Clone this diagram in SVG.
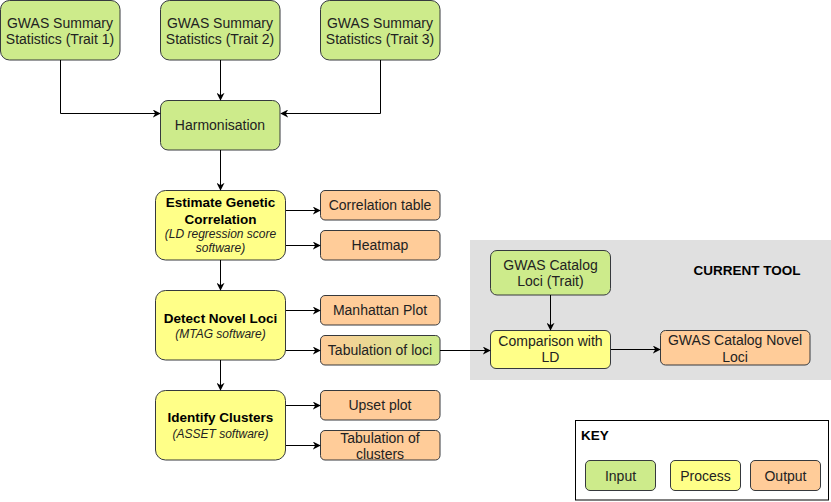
<svg xmlns="http://www.w3.org/2000/svg" width="831" height="502" viewBox="0 0 831 502">
<defs>
<marker id="ah" viewBox="0 0 10 10" refX="9" refY="5" markerWidth="8" markerHeight="8" markerUnits="userSpaceOnUse" orient="auto">
<path d="M0,0 L10,5 L0,10 L3,5 Z" fill="#000"/>
</marker>
<linearGradient id="og" x1="0" y1="0" x2="1" y2="0">
<stop offset="0" stop-color="#FFCC99"/>
<stop offset="1" stop-color="#CDEB8B"/>
</linearGradient>
</defs>
<style>
text{font-family:"Liberation Sans",Arial,sans-serif;font-size:14px;fill:#222;text-anchor:middle}
.b{font-weight:bold;fill:#000;font-size:13.5px}
.i{font-style:italic;font-size:12px}
.in{fill:#CDEB8B;stroke:#36393D;stroke-width:1}
.pr{fill:#FFFF88;stroke:#36393D;stroke-width:1}
.out{fill:#FFCC99;stroke:#36393D;stroke-width:1}
.c{fill:none;stroke:#000;stroke-width:1;marker-end:url(#ah)}
</style>
<rect x="0" y="0" width="831" height="502" fill="#fff"/>
<g id="current-tool">
<rect x="470" y="240" width="361" height="140" fill="#E0E0E0"/>
<text class="b" x="747" y="275">CURRENT TOOL</text>
</g>
<g id="trait1"><rect class="in" x="0.5" y="0.5" width="119.5" height="59.5" rx="9"/><text x="60" y="27.5">GWAS Summary</text><text x="60" y="44">Statistics (Trait 1)</text></g>
<g id="trait2"><rect class="in" x="160.5" y="0.5" width="119.5" height="59.5" rx="9"/><text x="220" y="27.5">GWAS Summary</text><text x="220" y="44">Statistics (Trait 2)</text></g>
<g id="trait3"><rect class="in" x="320.5" y="0.5" width="119.5" height="59.5" rx="9"/><text x="380" y="27.5">GWAS Summary</text><text x="380" y="44">Statistics (Trait 3)</text></g>
<g id="harmonisation"><rect class="in" x="160.5" y="100.5" width="119.5" height="49.5" rx="7.5"/><text x="220" y="130">Harmonisation</text></g>
<g id="estimate"><rect class="pr" x="155.5" y="190.5" width="130" height="69.5" rx="10"/><text class="b" x="220.5" y="207">Estimate Genetic</text><text class="b" x="220.5" y="224">Correlation</text><text class="i" x="220.5" y="238">(LD regression score</text><text class="i" x="220.5" y="252">software)</text></g>
<g id="detect"><rect class="pr" x="155.5" y="290.5" width="130" height="69.5" rx="10"/><text class="b" x="220.5" y="323">Detect Novel Loci</text><text class="i" x="220.5" y="337.5">(MTAG software)</text></g>
<g id="identify"><rect class="pr" x="155.5" y="390.5" width="130" height="69.5" rx="10"/><text class="b" x="220.5" y="422">Identify Clusters</text><text class="i" x="220.5" y="437.5">(ASSET software)</text></g>
<g id="corr-table"><rect class="out" x="320.5" y="190.5" width="119.5" height="29.5" rx="4.5"/><text x="380" y="210">Correlation table</text></g>
<g id="heatmap"><rect class="out" x="320.5" y="230.5" width="119.5" height="29.5" rx="4.5"/><text x="380" y="250">Heatmap</text></g>
<g id="manhattan"><rect class="out" x="320.5" y="295.5" width="119.5" height="29.5" rx="4.5"/><text x="380" y="315">Manhattan Plot</text></g>
<g id="tab-loci"><rect x="320.5" y="335.5" width="119.5" height="29.5" rx="4.5" fill="url(#og)" stroke="#36393D"/><text x="380" y="355">Tabulation of loci</text></g>
<g id="upset"><rect class="out" x="320.5" y="390.5" width="119.5" height="29.5" rx="4.5"/><text x="380" y="410">Upset plot</text></g>
<g id="tab-clusters"><rect class="out" x="320.5" y="430.5" width="119.5" height="29.5" rx="4.5"/><text x="380" y="443">Tabulation of</text><text x="380" y="459">clusters</text></g>
<g id="catalog-loci"><rect class="in" x="490.5" y="250.5" width="120" height="44.5" rx="6.5"/><text x="550.5" y="269.5">GWAS Catalog</text><text x="550.5" y="286">Loci (Trait)</text></g>
<g id="comparison"><rect class="pr" x="490.5" y="330.5" width="120" height="38" rx="5.5"/><text x="550.5" y="345.5">Comparison with</text><text x="550.5" y="362">LD</text></g>
<g id="novel-loci"><rect class="out" x="660.5" y="330.5" width="149.5" height="34.5" rx="5"/><text x="735" y="345">GWAS Catalog Novel</text><text x="735" y="362">Loci</text></g>
<g id="key">
<rect x="575.5" y="420.5" width="253" height="79.5" fill="#fff" stroke="#000"/>
<text class="b" x="581" y="440" style="text-anchor:start">KEY</text>
<rect class="in" x="585.5" y="460.5" width="70" height="30" rx="4.5"/><text x="620.5" y="480.5">Input</text>
<rect class="pr" x="670.5" y="460.5" width="70" height="30" rx="4.5"/><text x="705.5" y="480.5">Process</text>
<rect class="out" x="750.5" y="460.5" width="70" height="30" rx="4.5"/><text x="785.5" y="480.5">Output</text>
</g>
<g id="connectors">
<path class="c" d="M60.5,60 V113.5 H160"/>
<path class="c" d="M220.5,60 V100"/>
<path class="c" d="M380.5,60 V113.5 H281"/>
<path class="c" d="M220.5,150 V190"/>
<path class="c" d="M220.5,260 V290"/>
<path class="c" d="M220.5,360 V390"/>
<path class="c" d="M286,210.5 H320"/>
<path class="c" d="M286,245.5 H320"/>
<path class="c" d="M286,310.5 H320"/>
<path class="c" d="M286,350.5 H320"/>
<path class="c" d="M286,405.5 H320"/>
<path class="c" d="M286,445.5 H320"/>
<path class="c" d="M440,350.5 H490"/>
<path class="c" d="M550.5,295 V330"/>
<path class="c" d="M611,349.5 H660"/>
</g>
</svg>
